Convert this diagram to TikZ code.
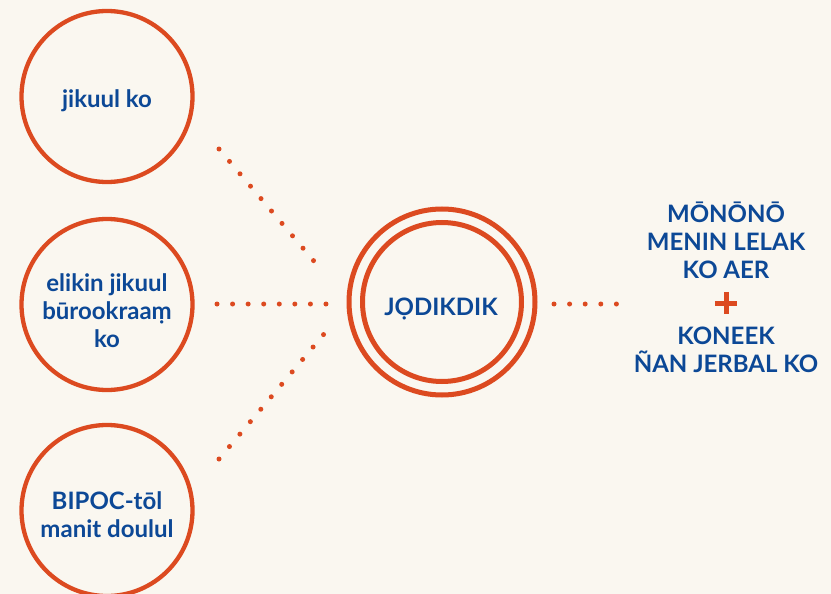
\documentclass[tikz,border=0pt]{standalone}
\usepackage{fontspec}
\setmainfont{Lato}
\definecolor{bgc}{RGB}{250,247,240}
\definecolor{orng}{RGB}{220,74,32}
\definecolor{blu}{RGB}{12,72,150}
\tikzset{
  ring/.style={circle, draw=orng, line width=4.3pt, minimum size=171pt, inner sep=0pt},
  lbl/.style={text=blu, font=\bfseries\fontsize{24}{28}\selectfont, align=center, inner sep=0pt},
  dots/.style={draw=orng, line width=5pt, line cap=round, dash pattern=on 0pt off #1},
}
\begin{document}
\begin{tikzpicture}[x=1pt,y=-1pt]
\fill[bgc] (0,0) rectangle (831,594);
\useasboundingbox (0,0) rectangle (831,594);
% left circles
\node[ring] (c1) at (107,96.5) {};
\node[ring] (c2) at (107,304.5) {};
\node[ring] (c3) at (107,510.5) {};
\node[lbl, anchor=base] (t1) at (107,107) {jikuul ko};
\node[lbl, anchor=center] (t2) at (107,311) {elikin jikuul\\būrookraaṃ\\ko};
\node[lbl, anchor=center] (t3) at (107,515) {BIPOC-tōl\\manit doulul};
% center
\node[circle, draw=orng, line width=5pt, minimum size=186pt, inner sep=0pt] (co) at (442,302) {};
\node[circle, draw=orng, line width=5pt, minimum size=159pt, inner sep=0pt] (ci) at (442,302) {};
\node[lbl, anchor=base] (tc) at (441,315) {JỌDIKDIK};
% dotted connectors
\coordinate (a1) at (219,149); \coordinate (b1) at (324,273);
\coordinate (a2) at (217,304); \coordinate (b2) at (326,304);
\coordinate (a3) at (219,459); \coordinate (b3) at (324,334);
\coordinate (a4) at (554,304); \coordinate (b4) at (632,304);
\draw[dots=16.25pt] (a1) -- (b1);
\draw[dots=15.57pt] (a2) -- (b2);
\draw[dots=16.25pt] (a3) -- (b3);
\draw[dots=15.6pt] (a4) -- (b4);
% right text
\node[lbl, anchor=center] (r1) at (726,240) {MŌNŌNŌ\\MENIN LELAK\\KO AER};
\node[inner sep=0pt, minimum size=22pt] (plus) at (726,303) {};
\draw[orng, line width=5pt] (plus.west) -- (plus.east) (plus.north) -- (plus.south);
\node[lbl, anchor=center] (r2) at (726,350) {KONEEK\\ÑAN JERBAL KO};
\end{tikzpicture}
\end{document}
